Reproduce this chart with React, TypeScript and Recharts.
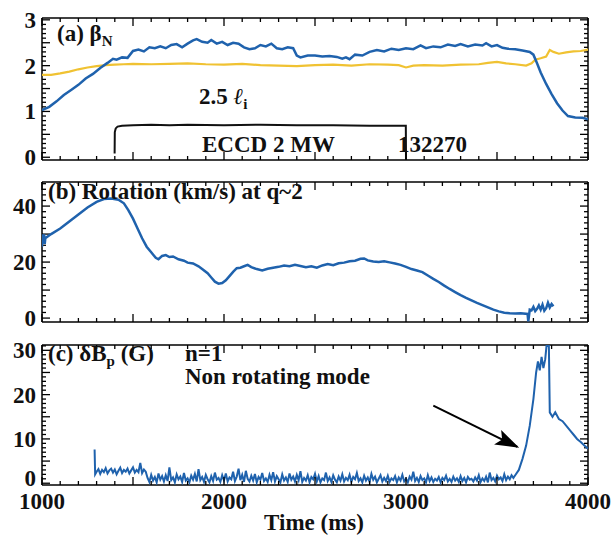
import React from "react";
import { LineChart, Line, XAxis, YAxis, ReferenceLine } from "recharts";

const FONT = "'Liberation Serif', 'Times New Roman', Times, serif";
const BLUE = "#1f62ad";
const GOLD = "#f0c232";

type Pt = [number, number];
type Side = "left" | "right" | "top" | "bottom";

function steps(from: number, to: number, step: number) {
  const out: number[] = [];
  for (let i = 0; from + i * step <= to + 1e-9; i++) out.push(+(from + i * step).toFixed(4));
  return out;
}

// shared time axis (ms)
const T0 = 1000;
const T1 = 4000;
const timeLabels = [1000, 2000, 3000, 4000];
const timeTicks = steps(T0, T1, 100);

// (a) beta_N, 2.5 li and the ECCD power trace, [time, value]
const betaN: Pt[] = [
  [1000, 1.03], [1040, 1.1], [1080, 1.22], [1120, 1.36], [1160, 1.47], [1200, 1.58], [1240, 1.72],
  [1280, 1.82], [1320, 1.95], [1360, 2.06], [1390, 2.15], [1410, 2.13], [1440, 2.18], [1470, 2.17],
  [1500, 2.32], [1530, 2.35], [1560, 2.31], [1590, 2.4], [1620, 2.38], [1650, 2.42], [1680, 2.38],
  [1710, 2.45], [1740, 2.47], [1770, 2.4], [1800, 2.48], [1830, 2.55], [1850, 2.58], [1880, 2.52],
  [1910, 2.5], [1930, 2.56], [1960, 2.48], [1990, 2.52], [2020, 2.45], [2050, 2.5], [2080, 2.48],
  [2110, 2.4], [2140, 2.36], [2170, 2.38], [2200, 2.45], [2230, 2.42], [2260, 2.48], [2290, 2.38],
  [2320, 2.36], [2350, 2.4], [2380, 2.38], [2400, 2.22], [2420, 2.18], [2460, 2.22], [2500, 2.22],
  [2540, 2.2], [2580, 2.21], [2620, 2.19], [2650, 2.15], [2670, 2.18], [2690, 2.14], [2720, 2.24],
  [2760, 2.22], [2800, 2.3], [2840, 2.34], [2880, 2.31], [2920, 2.37], [2960, 2.34], [3000, 2.38],
  [3040, 2.36], [3080, 2.44], [3110, 2.38], [3150, 2.42], [3190, 2.4], [3230, 2.46], [3270, 2.43],
  [3300, 2.47], [3340, 2.42], [3380, 2.46], [3420, 2.44], [3440, 2.49], [3470, 2.42], [3500, 2.45],
  [3530, 2.39], [3560, 2.37], [3600, 2.36], [3640, 2.33], [3680, 2.3], [3700, 2.24], [3720, 2.05],
  [3740, 1.85], [3770, 1.6], [3800, 1.38], [3830, 1.18], [3860, 1.02], [3890, 0.9], [3930, 0.87],
  [3970, 0.86], [4000, 0.83],
];
const li25: Pt[] = [
  [1000, 1.8], [1050, 1.8], [1100, 1.83], [1150, 1.87], [1200, 1.92], [1250, 1.96], [1300, 1.99],
  [1350, 2.01], [1400, 2.02], [1450, 2.03], [1500, 2.04], [1600, 2.03], [1700, 2.04], [1800, 2.05],
  [1900, 2.03], [2000, 2.02], [2100, 2.04], [2200, 2.01], [2300, 2.0], [2400, 1.99], [2500, 2.01],
  [2600, 2.02], [2700, 2.0], [2800, 2.03], [2900, 2.02], [2960, 2.01], [3000, 1.96], [3040, 2.0],
  [3100, 2.01], [3200, 2.0], [3300, 2.02], [3400, 2.03], [3450, 2.06], [3500, 2.08], [3550, 2.05],
  [3600, 2.03], [3660, 2.0], [3690, 2.05], [3710, 2.13], [3740, 2.16], [3770, 2.2], [3790, 2.34],
  [3810, 2.3], [3840, 2.26], [3880, 2.29], [3920, 2.31], [3960, 2.32], [4000, 2.35],
];
const eccd: Pt[] = [
  [1399, 0.08], [1400, 0.55], [1405, 0.63], [1415, 0.67], [1440, 0.69], [1500, 0.7], [1600, 0.71],
  [1700, 0.7], [1800, 0.71], [2000, 0.7], [2200, 0.71], [2400, 0.7], [2600, 0.7], [2800, 0.69],
  [2999, 0.69], [3000, -0.05],
];

// (b) rotation at q~2 (km/s)
const rotation: Pt[] = [
  [1000, 25.5], [1003, 29.5], [1012, 29.5], [1015, 26.5], [1018, 28.5], [1050, 30], [1100, 32],
  [1150, 34.5], [1200, 37], [1250, 39.5], [1300, 41.5], [1340, 42.5], [1380, 42.7], [1420, 42.3],
  [1450, 41], [1475, 38.5], [1500, 35.5], [1525, 32], [1550, 28.5], [1575, 25.5], [1600, 23.5],
  [1625, 21.5], [1640, 21], [1660, 22.2], [1680, 22.5], [1700, 21.8], [1720, 22], [1750, 21],
  [1780, 20.5], [1800, 19.8], [1830, 19.5], [1860, 18.5], [1880, 17.5], [1910, 16], [1930, 14.5],
  [1950, 13], [1970, 12.3], [1990, 12.5], [2010, 13.5], [2030, 15], [2050, 16.5], [2070, 17.8],
  [2090, 18], [2110, 18.5], [2130, 19], [2150, 18.2], [2180, 17.5], [2210, 17], [2240, 17.6],
  [2270, 18], [2300, 18.3], [2330, 18.8], [2360, 18.5], [2390, 19], [2420, 18.6], [2450, 18.2],
  [2480, 18.5], [2510, 18], [2540, 18.8], [2570, 19.3], [2600, 18.9], [2630, 19.6], [2660, 19.8],
  [2690, 20.3], [2720, 20.5], [2750, 21.2], [2770, 21.3], [2790, 20.6], [2820, 20.2], [2850, 20],
  [2880, 20.3], [2910, 19.9], [2940, 19.5], [2970, 19], [3000, 18.3], [3030, 17.5], [3060, 17],
  [3090, 16.4], [3120, 15.2], [3150, 14], [3180, 12.9], [3210, 11.6], [3240, 10.4], [3270, 9.3],
  [3300, 8.2], [3330, 7.2], [3360, 6.3], [3390, 5.4], [3420, 4.6], [3450, 3.8], [3480, 3],
  [3510, 2.4], [3540, 1.9], [3570, 1.7], [3600, 1.6], [3630, 1.7], [3668, 1.5], [3672, -1.2],
  [3680, 3], [3690, 2.8], [3700, 4], [3710, 2.5], [3720, 3.3], [3730, 4.5], [3740, 3], [3750, 4.8],
  [3760, 2.6], [3770, 3.5], [3780, 5.5], [3790, 3.8], [3800, 5], [3810, 4.2],
];

// (c) delta B_p (G), n=1
const dbpStart: Pt[] = [[1289, 7.6], [1292, 2.0]];
const dbpEarly = [ // 1300.. every 10 ms
  2.6, 3.2, 2.1, 3.0, 2.5, 3.4, 2.2, 2.9, 3.3, 2.4, 3.1, 2.0, 2.8, 3.5, 2.3, 3.0, 2.6, 3.3, 2.2, 2.9,
  3.6, 2.4, 3.0, 2.5, 4.6, 2.3, 3.1, 2.6,
];
const dbpFlat = [ // 1580.. every 10 ms
  1.2, 0.3, 1.9, 0.6, 1.4, 0.2, 2.2, 0.8, 1.6, 0.4,
  1.8, 0.5, 3.6, 0.7, 1.3, 0.2, 2.0, 0.9, 1.5, 0.3,
  2.3, 0.6, 1.1, 0.2, 1.7, 0.8, 2.1, 0.4, 3.2, 0.7,
  1.4, 0.3, 1.9, 0.9, 0.2, 1.6, 0.5, 2.4, 0.8, 1.2,
  0.3, 1.8, 0.6, 2.2, 0.4, 1.3, 0.9, 2.6, 0.5, 1.5,
  3.3, 0.7, 1.9, 0.3, 2.8, 1.0, 0.4, 1.7, 0.6, 2.1,
  0.2, 1.4, 0.8, 2.3, 0.5, 1.1, 0.3, 1.9, 0.7, 2.5,
  0.4, 1.6, 0.9, 0.2, 2.0, 0.6, 1.3, 0.3, 2.2, 0.8,
  1.5, 0.4, 1.9, 0.7, 2.7, 0.3, 1.2, 0.6, 1.8, 0.2,
  1.4, 0.9, 2.1, 0.4, 1.6, 0.2, 1.1, 0.7, 2.4, 0.5,
  1.3, 0.3, 1.8, 0.8, 0.2, 1.5, 0.6, 2.0, 0.4, 1.2,
  0.7, 1.9, 0.3, 1.4, 0.9, 2.3, 0.5, 1.1, 0.2, 1.7,
  0.6, 1.3, 0.3, 2.1, 0.8, 1.5, 0.2, 1.0, 1.8, 0.4,
  1.2, 0.5, 1.7, 0.3, 1.1, 0.7, 1.6, 0.2, 1.3, 0.6,
  1.9, 0.4, 1.0, 0.2, 1.5, 0.8, 2.6, 0.5, 1.2, 0.3,
  1.6, 0.7, 1.1, 0.2, 1.8, 0.5, 1.3, 0.3, 1.0, 0.6,
  1.4, 0.2, 1.2, 0.7, 1.7, 0.4, 1.0, 0.3, 1.5, 0.6,
  1.1, 0.3, 1.6, 0.5, 1.2, 0.2, 1.4, 0.8, 1.0, 0.4,
  1.3, 0.6, 1.8, 0.3, 1.1, 0.5, 1.5, 0.2, 2.4, 0.7,
  1.2, 0.4, 1.7, 0.9, 1.3, 0.5, 2.0, 0.7, 1.5, 0.9,
  1.8, 1.2,
];
const dbpMode: Pt[] = [
  [3600, 1.8], [3620, 3], [3640, 5.5], [3660, 8.5], [3680, 13], [3700, 19], [3715, 25], [3725, 27.5],
  [3735, 25.5], [3745, 28.5], [3755, 26], [3765, 28], [3772, 31], [3785, 31], [3790, 16], [3805, 15],
  [3820, 16], [3840, 14.5], [3860, 14], [3880, 13], [3900, 12], [3920, 11], [3940, 10], [3960, 9.3],
  [3980, 8.5], [4000, 7.8],
];

const toPts = (a: Pt[]) => a.map(([t, v]) => ({ t, v }));
const gridPts = (t0: number, dt: number, vals: number[]) => vals.map((v, i) => ({ t: t0 + i * dt, v }));
const dbpData = [
  ...toPts(dbpStart),
  ...gridPts(1300, 10, dbpEarly),
  ...gridPts(1580, 10, dbpFlat),
  ...toPts(dbpMode),
];

const near = (a: number, b: number) => Math.abs(a - b) < 1e-6;
const isMajor = (v: number, step: number) => near(v / step, Math.round(v / step));

// x ticks (top / bottom) are drawn by the axes themselves
function makeTick(side: Side, majorStep: number, labels: number[], labelDy = 0) {
  return (p: any) => {
    const v = Number(p.payload.value);
    const len = isMajor(v, majorStep) ? 8 : 4;
    const x = Number(p.x);
    const y = Number(p.y);
    const d = side === "top" ? `M${x},${y}v${len}` : side === "bottom" ? `M${x},${y}v${-len}` : "";
    const show = labels.some((l) => near(l, v));
    return (
      <g>
        {d && <path d={d} stroke="#000" strokeWidth={1.3} fill="none" />}
        {show && side === "left" && (
          <text x={x - 6} y={y + labelDy} dy="0.35em" textAnchor="end" fontFamily={FONT} fontWeight="bold"
            fontSize={23} fill="#111">
            {v}
          </text>
        )}
        {show && side === "bottom" && (
          <text x={x} y={y + 24} textAnchor="middle" fontFamily={FONT} fontWeight="bold" fontSize={23} fill="#111">
            {v}
          </text>
        )}
      </g>
    );
  };
}

const LEFT_W = 42;
const RIGHT_W = 24;
const PLOT_W = 612 - LEFT_W - RIGHT_W; // px between the left and right frame

type PanelProps = {
  top: number;
  height: number;
  mTop: number;
  mBottom: number;
  domain: [number, number];
  yTicks: number[];
  yMajor: number;
  yLabels: number[];
  xLabels: number[];
  zeroDy?: number;
  children: React.ReactNode;
};

function Panel({ top, height, mTop, mBottom, domain, yTicks, yMajor, yLabels, xLabels, zeroDy = 0, children }: PanelProps) {
  const msPerPx = (T1 - T0) / PLOT_W;
  const frameLine = { stroke: "#000", strokeWidth: 1.5, ifOverflow: "visible" as const, xAxisId: "b", yAxisId: "l" };
  const tickLine = { stroke: "#000", strokeWidth: 1.3, ifOverflow: "visible" as const, xAxisId: "b", yAxisId: "l" };
  const leftTick = makeTick("left", yMajor, yLabels);
  const zeroTick = makeTick("left", yMajor, yLabels, zeroDy);
  return (
    <div style={{ position: "absolute", left: 0, top }}>
      <LineChart width={612} height={height} margin={{ top: mTop, right: RIGHT_W, bottom: mBottom, left: 0 }}>
        <XAxis xAxisId="b" orientation="bottom" dataKey="t" type="number" domain={[T0, T1]} allowDataOverflow
          ticks={timeTicks} interval={0} height={1} tickSize={0} tickMargin={0} tickLine={false} axisLine={false}
          tick={makeTick("bottom", 500, xLabels)} />
        <XAxis xAxisId="t" orientation="top" dataKey="t" type="number" domain={[T0, T1]} allowDataOverflow
          ticks={timeTicks} interval={0} height={1} tickSize={0} tickMargin={0} tickLine={false} axisLine={false}
          tick={makeTick("top", 500, [])} />
        <YAxis yAxisId="l" orientation="left" type="number" domain={domain} allowDataOverflow ticks={yTicks}
          interval={0} width={LEFT_W} tickSize={0} tickMargin={0} tickLine={false} axisLine={false}
          tick={(p: any) => (near(Number(p.payload.value), 0) ? zeroTick(p) : leftTick(p))} />
        {yTicks.map((v) => {
          const dx = (isMajor(v, yMajor) ? 8 : 4) * msPerPx;
          return (
            <React.Fragment key={`yt${v}`}>
              <ReferenceLine {...tickLine} segment={[{ x: T0, y: v }, { x: T0 + dx, y: v }]} />
              <ReferenceLine {...tickLine} segment={[{ x: T1 - dx, y: v }, { x: T1, y: v }]} />
            </React.Fragment>
          );
        })}
        <ReferenceLine {...frameLine} segment={[{ x: T0, y: domain[0] }, { x: T0, y: domain[1] }]} />
        <ReferenceLine {...frameLine} segment={[{ x: T1, y: domain[0] }, { x: T1, y: domain[1] }]} />
        <ReferenceLine {...frameLine} segment={[{ x: T0, y: domain[0] }, { x: T1, y: domain[0] }]} />
        <ReferenceLine {...frameLine} segment={[{ x: T0, y: domain[1] }, { x: T1, y: domain[1] }]} />
        {children}
      </LineChart>
    </div>
  );
}

const txt = { fontFamily: FONT, fontWeight: "bold" as const, fontSize: 23, fill: "#111" };

export default function App() {
  return (
    <div style={{ position: "fixed", left: 0, top: 0, width: 612, height: 538, background: "#fff" }}>
      <svg width={0} height={0} style={{ position: "absolute" }}>
        <defs>
          <marker id="arrowHead" markerUnits="userSpaceOnUse" markerWidth={24} markerHeight={18} refX={22} refY={8}
            orient="auto">
            <path d="M0,0 L24,8 L0,16 L5,8 z" fill="#000" />
          </marker>
        </defs>
      </svg>

      <Panel top={0} height={175} mTop={17} mBottom={14} domain={[-0.06, 3.04]} yTicks={steps(0, 3, 0.1)}
        yMajor={0.5} yLabels={[0, 1, 2, 3]} xLabels={[]}>
        <Line xAxisId="b" yAxisId="l" data={toPts(li25)} dataKey="v" stroke={GOLD} strokeWidth={2.2} dot={false}
          isAnimationActive={false} />
        <Line xAxisId="b" yAxisId="l" data={toPts(betaN)} dataKey="v" stroke={BLUE} strokeWidth={2.5} dot={false}
          isAnimationActive={false} />
        <Line xAxisId="b" yAxisId="l" data={toPts(eccd)} dataKey="v" stroke="#111" strokeWidth={2} dot={false}
          isAnimationActive={false} />
      </Panel>

      <Panel top={170} height={165} mTop={11} mBottom={12} domain={[-1.4, 48.6]} yTicks={steps(0, 48, 2)}
        yMajor={10} yLabels={[0, 20, 40]} xLabels={[]}>
        <Line xAxisId="b" yAxisId="l" data={toPts(rotation)} dataKey="v" stroke={BLUE} strokeWidth={2.5} dot={false}
          isAnimationActive={false} />
      </Panel>

      <Panel top={330} height={208} mTop={14} mBottom={52} domain={[-0.4, 31.2]} yTicks={steps(0, 31, 1)}
        yMajor={5} yLabels={[0, 10, 20, 30]} xLabels={timeLabels} zeroDy={-5}>
        <Line xAxisId="b" yAxisId="l" data={dbpData} dataKey="v" stroke={BLUE} strokeWidth={2} dot={false}
          isAnimationActive={false} />
        <ReferenceLine xAxisId="b" yAxisId="l" segment={[{ x: 3150, y: 17.5 }, { x: 3612, y: 8.2 }]} stroke="#000"
          strokeWidth={2} markerEnd="url(#arrowHead)" ifOverflow="visible" />
      </Panel>

      <svg width={612} height={538} style={{ position: "absolute", left: 0, top: 0, pointerEvents: "none" }}>
        <text x={57} y={41} {...txt}>
          (a) β<tspan fontSize={15} dy={5}>N</tspan>
        </text>
        <text x={199} y={104} {...txt}>
          2.5 <tspan fontStyle="italic">ℓ</tspan>
          <tspan fontSize={15} dy={5}>i</tspan>
        </text>
        <text x={202} y={152} {...txt}>ECCD 2 MW</text>
        <text x={398} y={152} {...txt}>132270</text>
        <text x={48} y={199} {...txt}>(b) Rotation (km/s) at q~2</text>
        <text x={48} y={361} {...txt}>
          (c) δB<tspan fontSize={15} dy={5}>p</tspan>
          <tspan dy={-5}> (G)</tspan>
        </text>
        <text x={185} y={361} {...txt}>n=1</text>
        <text x={185} y={384} {...txt}>Non rotating mode</text>
        <text x={314} y={530} textAnchor="middle" {...txt}>Time (ms)</text>
      </svg>
    </div>
  );
}
